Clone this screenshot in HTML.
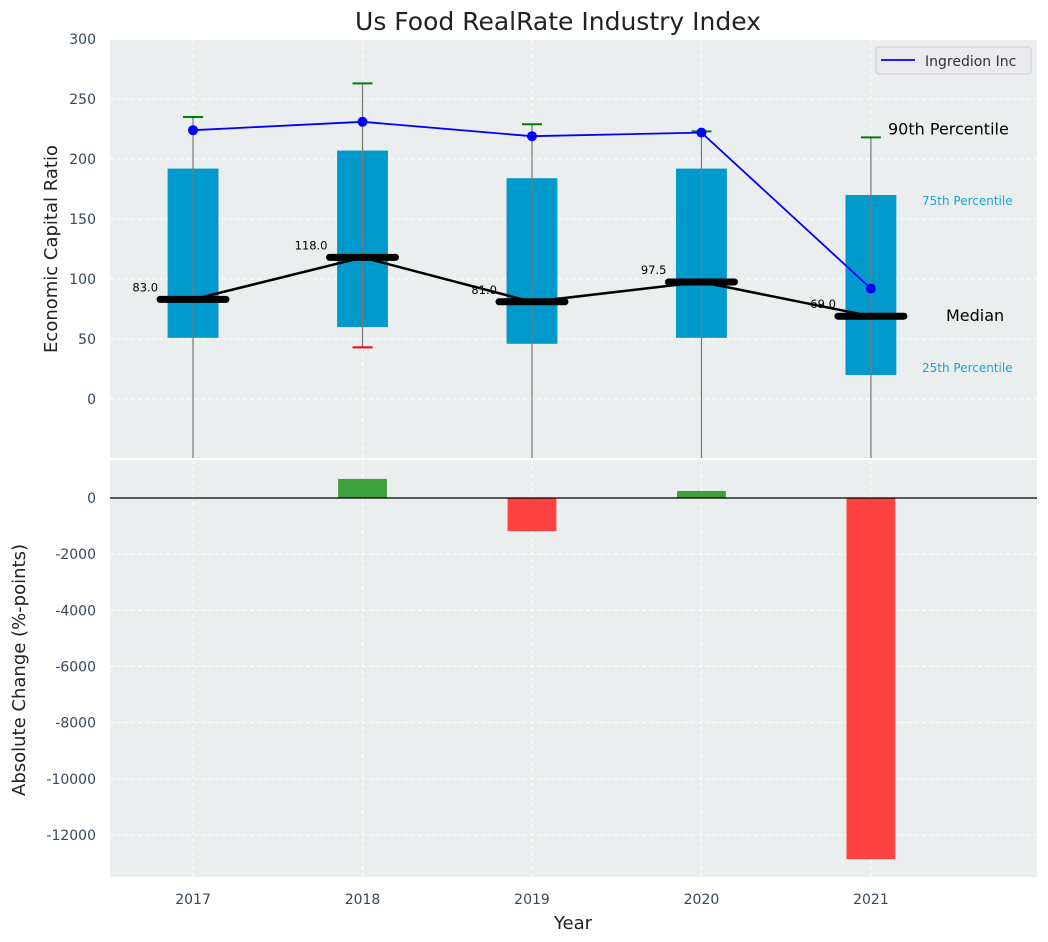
<!DOCTYPE html>
<html><head><meta charset="utf-8"><style>
body{margin:0;background:#fff;}
svg{display:block;font-family:"DejaVu Sans","Liberation Sans",sans-serif;}
</style></head><body>
<svg id="chart" width="1048" height="942">
<text x="558" y="30" font-size="25" text-anchor="middle" fill="#222">Us Food RealRate Industry Index</text>
</svg>
<script>
const years=[2017,2018,2019,2020,2021];
const p25=[51,60,46,51,20];
const p75=[192,207,184,192,170];
const medians=[83,118,81,97.5,69];
const p90=[235,263,229,223,218];
const p10=[-80,43,-80,-80,-80];
const company=[224,231,219,222,92];
const changes=[0,680,-1180,250,-12860];
const topTicks=[0,50,100,150,200,250,300];
const botTicks=[0,-2000,-4000,-6000,-8000,-10000,-12000];

const NS='http://www.w3.org/2000/svg';
const svg=document.getElementById('chart');
function el(tag,attrs,parent){const e=document.createElementNS(NS,tag);for(const k in attrs)e.setAttribute(k,attrs[k]);(parent||svg).appendChild(e);return e;}
const L=110,R=1037;
const xs=v=>L+(v-2016.51)/(2021.98-2016.51)*(R-L);
const T0=40,T1=458,B0=460,B1=877;
const yt=v=>399-v*1.2;
const yb=v=>498-v*(337/12000);

const topBg=el('rect',{x:L,y:T0,width:R-L,height:T1-T0,fill:'#eaeeef'});


const botBg=el('rect',{x:L,y:B0,width:R-L,height:B1-B0,fill:'#eaeeef'});



years.forEach(y=>{
  el('line',{x1:xs(y),x2:xs(y),y1:T0,y2:T1,stroke:'#fff','stroke-dasharray':'4,3','stroke-width':1});
  el('line',{x1:xs(y),x2:xs(y),y1:B0,y2:B1,stroke:'#fff','stroke-dasharray':'4,3','stroke-width':1});
});
topTicks.forEach(t=>{
  el('line',{x1:L,x2:R,y1:yt(t),y2:yt(t),stroke:'#fff','stroke-dasharray':'4,3'});
  const tx=el('text',{x:96,y:yt(t)+5,'font-size':14,'text-anchor':'end',fill:'#34495e'});
  tx.textContent=t;
  
  
});
botTicks.forEach(t=>{
  el('line',{x1:L,x2:R,y1:yb(t),y2:yb(t),stroke:'#fff','stroke-dasharray':'4,3'});
  const tx=el('text',{x:96,y:yb(t)+5,'font-size':14,'text-anchor':'end',fill:'#34495e'});
  tx.textContent=t;
  
  
});
years.forEach(y=>{
  const tx=el('text',{x:xs(y),y:904,'font-size':14,'text-anchor':'middle',fill:'#34495e'});
  tx.textContent=y;
  
  
});

const defs=el('defs',{});
const cp=el('clipPath',{id:'tc'},defs);
el('rect',{x:L,y:T0,width:R-L,height:T1-T0},cp);
const g=el('g',{'clip-path':'url(#tc)'});

const bw=(xs(2017.15)-xs(2016.85));
years.forEach((y,i)=>{
  const b=el('rect',{x:xs(y)-bw/2,y:yt(p75[i]),width:bw,height:yt(p25[i])-yt(p75[i]),fill:'#0099cc'},g);
  
  
  el('line',{x1:xs(y),x2:xs(y),y1:yt(p90[i]),y2:yt(p10[i]),stroke:'#777','stroke-width':1.2},g);
  const c=el('line',{x1:xs(y)-10,x2:xs(y)+10,y1:yt(p90[i]),y2:yt(p90[i]),stroke:'green','stroke-width':2},g);
  
  
  const c2=el('line',{x1:xs(y)-10,x2:xs(y)+10,y1:yt(p10[i]),y2:yt(p10[i]),stroke:'red','stroke-width':2},g);
  
  
});
el('polyline',{points:years.map((y,i)=>xs(y)+','+yt(medians[i])).join(' '),fill:'none',stroke:'#000','stroke-width':2.5},g);
years.forEach((y,i)=>{
  const m=el('line',{x1:xs(y)-33,x2:xs(y)+33,y1:yt(medians[i]),y2:yt(medians[i]),stroke:'#000','stroke-width':7,'stroke-linecap':'round'},g);
  
  
  const t=el('text',{x:xs(y)-35,y:yt(medians[i])-8,'font-size':11.5,'text-anchor':'end',fill:'#000'},g);
  t.textContent=medians[i].toFixed(1);
  
  
});
el('polyline',{points:years.map((y,i)=>xs(y)+','+yt(company[i])).join(' '),fill:'none',stroke:'#0000ff','stroke-width':1.8},g);
years.forEach((y,i)=>{
  const d=el('circle',{cx:xs(y),cy:yt(company[i]),r:5,fill:'#0000ff'},g);
  
  
});
const last=years.length-1;
[['90th Percentile',888,yt(p90[last])-3,16,'#000'],['75th Percentile',922,yt(p75[last])+10,12,'#1aa3d1'],['Median',946,yt(medians[last])+5,16,'#000'],['25th Percentile',922,yt(p25[last])-3,12,'#1aa3d1']].forEach(a=>{
  const t=el('text',{x:a[1],y:a[2],'font-size':a[3],fill:a[4]});
  t.textContent=a[0];
  
  
});
const lg=el('g',{});


el('rect',{x:876,y:47,width:155,height:27,rx:3,fill:'#eaeaf0',stroke:'#ccc'},lg);
el('line',{x1:881,x2:915,y1:60,y2:60,stroke:'#0000ff','stroke-width':1.8},lg);
const lt=el('text',{x:925,y:66,'font-size':14,fill:'#333'},lg);
lt.textContent='Ingredion Inc';

const cp2=el('clipPath',{id:'bc'},defs);
el('rect',{x:L,y:B0,width:R-L,height:B1-B0},cp2);
const g2=el('g',{'clip-path':'url(#bc)'});
years.forEach((y,i)=>{
  if(changes[i]===0)return;
  const v=changes[i];
  const b=el('rect',{x:xs(y)-bw*0.48,y:Math.min(yb(0),yb(v)),width:bw*0.96,height:Math.abs(yb(v)-yb(0)),fill:v>0?'#2e9a2e':'#ff3333','fill-opacity':0.92},g2);
  
  
});
el('line',{x1:L,x2:R,y1:yb(0),y2:yb(0),stroke:'#000','stroke-width':1.2});

const a1=el('text',{x:0,y:0,'font-size':18,'text-anchor':'middle',fill:'#222',transform:'translate(57,249) rotate(-90)'});
a1.textContent='Economic Capital Ratio';


const a2=el('text',{x:0,y:0,'font-size':18,'text-anchor':'middle',fill:'#222',transform:'translate(25,670) rotate(-90)'});
a2.textContent='Absolute Change (%-points)';


const a3=el('text',{x:573,y:929,'font-size':18,'text-anchor':'middle',fill:'#222'});
a3.textContent='Year';


</script>
</body></html>
